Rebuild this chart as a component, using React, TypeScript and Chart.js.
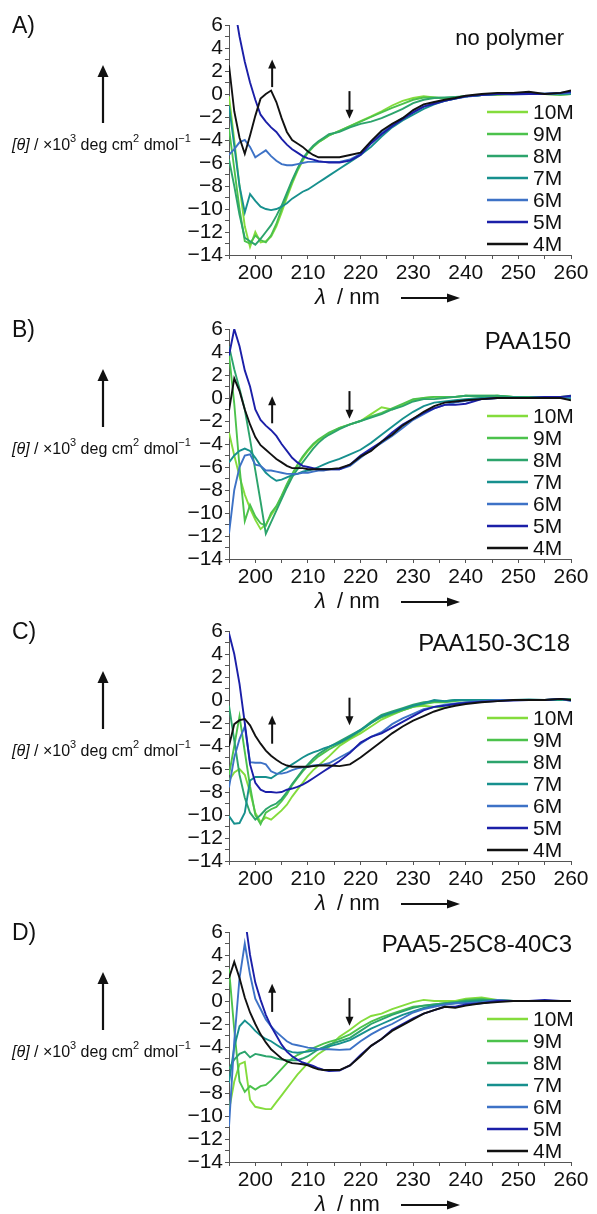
import React, { useEffect, useRef } from 'react';
import { Chart, registerables } from 'chart.js';

Chart.register(...registerables);

const FONT = '"Liberation Sans", Arial, Helvetica, sans-serif';
const AXIS_COLOR = '#555555';
const TEXT_COLOR = '#111111';

// wavelength grid (nm)
const WAVELENGTHS = [
  195, 196, 197, 198, 199, 200, 201, 202, 203, 204, 205, 206, 207, 208, 209, 210, 211, 212, 213, 214,
  216, 218, 220, 222, 224, 226, 228, 230, 232, 234, 236, 238, 240,
  243, 246, 249, 252, 255, 258, 260,
];

const SERIES_NAMES = ['10M', '9M', '8M', '7M', '6M', '5M', '4M'];
const SERIES_COLORS = ['#84dc3c', '#4cc24c', '#2ca46c', '#17908e', '#3d72c6', '#1b1fa8', '#111111'];

const X_TICK_VALUES = [195, 200, 205, 210, 215, 220, 225, 230, 235, 240, 245, 250, 255, 260];
const X_TICK_LABELS = [200, 210, 220, 230, 240, 250, 260];
const Y_TICK_VALUES = [-14, -13, -12, -11, -10, -9, -8, -7, -6, -5, -4, -3, -2, -1, 0, 1, 2, 3, 4, 5, 6];
const Y_TICK_LABELS = [-14, -12, -10, -8, -6, -4, -2, 0, 2, 4, 6];

// Panel A: no polymer
const A_10M = [-0.2, -4.0, -8.0, -11.5, -13.3, -12.0, -12.9, -12.8, -12.4, -11.5, -10.3, -9.0, -7.8, -6.7, -5.8, -5.1, -4.6, -4.2, -3.9, -3.6, -3.2, -2.8, -2.35, -1.95, -1.5, -1.0, -0.6, -0.35, -0.2, -0.3, -0.4, -0.3, -0.2, -0.1, -0.1, 0.0, 0.0, 0.0, -0.1, 0.0];
const A_9M = [-3.0, -6.5, -10.0, -12.8, -13.0, -12.3, -12.7, -12.9, -12.3, -11.3, -10.0, -8.8, -7.6, -6.6, -5.7, -5.1, -4.6, -4.2, -3.9, -3.6, -3.2, -2.8, -2.4, -2.0, -1.6, -1.2, -0.85, -0.5, -0.3, -0.3, -0.35, -0.3, -0.2, -0.1, 0.0, 0.0, 0.0, 0.0, 0.0, 0.0];
const A_8M = [-5.7, -8.0, -10.5, -12.5, -12.8, -13.1, -12.6, -12.0, -11.4, -10.6, -9.7, -8.6, -7.5, -6.5, -5.6, -5.0, -4.5, -4.1, -3.8, -3.5, -3.3, -2.9, -2.6, -2.4, -2.1, -1.7, -1.3, -0.8, -0.5, -0.35, -0.3, -0.25, -0.2, -0.1, 0.0, 0.0, 0.0, 0.0, -0.05, 0.0];
const A_7M = [-1.0, -4.5, -8.0, -10.3, -8.7, -9.3, -9.8, -10.0, -10.1, -10.0, -9.8, -9.5, -9.1, -8.8, -8.5, -8.3, -8.0, -7.7, -7.4, -7.1, -6.5, -5.9, -5.3, -4.6, -3.7, -2.9, -2.3, -1.8, -1.3, -0.9, -0.6, -0.4, -0.2, -0.1, 0.0, 0.0, 0.05, 0.0, 0.05, 0.05];
const A_6M = [-5.3, -4.8, -4.2, -4.0, -4.6, -5.5, -5.2, -4.9, -5.4, -5.8, -6.1, -6.2, -6.2, -6.1, -6.0, -5.9, -5.9, -5.9, -5.9, -5.9, -5.9, -5.7, -5.2, -4.2, -3.4, -2.7, -2.1, -1.6, -1.1, -0.8, -0.6, -0.4, -0.25, -0.1, 0.0, -0.05, 0.0, 0.05, 0.05, 0.1];
const A_5M = [10.0, 7.7, 5.0, 2.8, 1.0, -0.5, -1.8, -2.4, -2.9, -3.3, -3.9, -4.4, -4.8, -5.1, -5.4, -5.6, -5.7, -5.85, -5.9, -5.95, -5.95, -5.8, -5.3, -4.3, -3.5, -2.8, -2.2, -1.6, -1.1, -0.85, -0.6, -0.4, -0.2, -0.1, 0.0, 0.0, 0.0, 0.0, 0.1, 0.2];
const A_4M = [2.5, -1.5, -3.8, -5.2, -3.6, -1.9, -0.4, 0.0, 0.3, -0.7, -2.1, -3.3, -4.0, -4.3, -4.6, -5.0, -5.3, -5.5, -5.5, -5.5, -5.5, -5.3, -5.1, -4.1, -3.2, -2.6, -2.1, -1.4, -0.9, -0.7, -0.5, -0.35, -0.15, 0.0, 0.1, 0.1, 0.2, 0.0, 0.1, 0.3];

// Panel B: PAA150
const B_10M = [-3.0, -5.0, -6.8, -8.4, -9.6, -10.6, -11.4, -11.0, -10.2, -9.5, -8.6, -7.6, -6.7, -5.9, -5.2, -4.6, -4.1, -3.7, -3.4, -3.1, -2.6, -2.3, -2.0, -1.4, -0.8, -1.0, -0.6, -0.2, 0.0, 0.1, 0.1, 0.1, 0.2, 0.2, 0.2, 0.1, 0.1, 0.1, 0.1, 0.2];
const B_9M = [3.8, -0.5, -6.0, -10.7, -9.3, -10.3, -10.9, -11.1, -10.0, -9.4, -8.5, -7.5, -6.6, -5.8, -5.1, -4.5, -4.0, -3.6, -3.3, -3.0, -2.6, -2.3, -2.0, -1.6, -1.3, -0.9, -0.5, -0.1, 0.0, 0.1, 0.1, 0.1, 0.2, 0.1, 0.2, 0.1, 0.1, 0.1, 0.1, 0.1];
const B_8M = [4.5, 2.5, 0.8, -1.0, -3.6, -6.3, -9.0, -11.8, -10.8, -9.8, -8.8, -7.8, -6.9, -6.2, -5.6, -5.0, -4.4, -3.9, -3.5, -3.2, -2.7, -2.3, -2.0, -1.7, -1.4, -1.0, -0.7, -0.3, -0.1, -0.1, 0.0, 0.1, 0.2, 0.2, 0.2, 0.1, 0.1, 0.1, 0.1, 0.1];
const B_7M = [-5.6, -5.0, -4.6, -4.4, -4.6, -5.2, -5.9, -6.5, -6.9, -7.2, -7.1, -6.9, -6.7, -6.6, -6.4, -6.3, -6.2, -6.0, -5.8, -5.6, -5.3, -4.9, -4.5, -3.9, -3.2, -2.5, -1.8, -1.2, -0.7, -0.4, -0.3, -0.2, -0.1, 0.0, 0.0, 0.05, 0.0, 0.05, 0.05, 0.0];
const B_6M = [-11.8, -8.0, -6.0, -5.0, -4.9, -5.8, -5.9, -6.3, -6.3, -6.4, -6.5, -6.6, -6.6, -6.6, -6.5, -6.5, -6.4, -6.3, -6.3, -6.2, -6.2, -5.9, -5.2, -4.5, -3.9, -3.3, -2.6, -1.9, -1.4, -0.9, -0.6, -0.4, -0.25, -0.1, 0.0, 0.0, 0.0, 0.05, 0.1, 0.1];
const B_5M = [3.7, 6.0, 4.5, 2.4, 1.0, -1.0, -1.9, -2.4, -2.8, -3.3, -4.0, -4.6, -5.2, -5.6, -5.9, -6.0, -6.1, -6.2, -6.2, -6.2, -6.2, -5.8, -5.0, -4.4, -3.8, -3.0, -2.3, -1.8, -1.3, -0.9, -0.6, -0.6, -0.5, -0.1, 0.0, 0.0, 0.0, 0.1, 0.1, 0.2];
const B_4M = [-1.1, 1.7, 0.6, -1.0, -2.3, -3.4, -4.1, -4.5, -4.9, -5.3, -5.6, -5.9, -6.1, -6.1, -6.1, -6.2, -6.2, -6.2, -6.2, -6.2, -6.1, -5.8, -5.1, -4.6, -3.8, -3.2, -2.4, -1.8, -1.2, -0.7, -0.4, -0.3, -0.2, -0.1, 0.0, 0.0, 0.0, 0.0, 0.0, -0.2];

// Panel C: PAA150-3C18
const C_10M = [-7.0, -6.3, -6.0, -6.5, -8.0, -9.8, -10.6, -10.2, -10.4, -10.0, -9.6, -9.1, -8.4, -7.8, -7.2, -6.6, -6.1, -5.7, -5.3, -4.9, -4.0, -3.4, -2.9, -2.3, -1.7, -1.3, -0.9, -0.6, -0.5, -0.6, -0.7, -0.4, -0.2, -0.1, 0.0, 0.0, 0.0, 0.0, 0.1, 0.0];
const C_9M = [-6.5, -4.0, -1.4, -4.5, -7.5, -10.0, -10.8, -9.8, -9.5, -9.3, -8.8, -8.2, -7.4, -6.8, -6.2, -5.7, -5.3, -4.9, -4.6, -4.3, -3.8, -3.3, -2.7, -2.0, -1.5, -1.2, -0.9, -0.6, -0.35, -0.2, -0.2, -0.1, 0.0, 0.0, 0.0, 0.0, 0.0, 0.0, 0.0, 0.1];
const C_8M = [-0.5, -3.5, -6.5, -8.5, -9.8, -10.4, -10.0, -9.5, -9.2, -9.0, -8.6, -8.0, -7.3, -6.7, -6.1, -5.6, -5.1, -4.7, -4.4, -4.1, -3.6, -3.1, -2.6, -1.9, -1.3, -1.0, -0.7, -0.4, -0.2, -0.1, -0.1, 0.0, 0.0, 0.0, 0.0, 0.0, 0.0, 0.0, 0.0, 0.0];
const C_7M = [-10.1, -10.75, -10.7, -9.8, -7.0, -6.7, -6.7, -6.7, -6.8, -6.5, -6.2, -5.9, -5.6, -5.3, -5.0, -4.75, -4.55, -4.4, -4.2, -4.05, -3.7, -3.2, -2.6, -2.0, -1.4, -1.1, -0.8, -0.5, -0.3, 0.0, -0.1, 0.0, 0.0, 0.0, 0.0, 0.0, 0.05, 0.0, 0.05, 0.0];
const C_6M = [-7.6, -5.0, -3.4, -2.3, -5.4, -5.45, -5.45, -5.6, -6.2, -6.4, -6.4, -6.3, -6.1, -5.95, -5.85, -5.8, -5.7, -5.65, -5.6, -5.5, -5.0, -4.5, -3.8, -3.2, -2.8, -2.1, -1.6, -1.2, -0.8, -0.6, -0.4, -0.3, -0.2, -0.1, 0.0, 0.0, 0.0, 0.0, 0.1, -0.1];
const C_5M = [5.8, 4.0, 1.4, -2.0, -5.6, -7.2, -7.8, -8.0, -8.0, -8.05, -8.0, -7.8, -7.7, -7.55, -7.35, -7.1, -6.8, -6.5, -6.2, -5.9, -5.3, -4.6, -3.7, -3.2, -2.9, -2.4, -1.9, -1.4, -0.9, -0.6, -0.5, -0.35, -0.25, -0.15, -0.1, -0.05, 0.0, 0.0, 0.1, 0.0];
const C_4M = [-4.0, -2.1, -1.75, -1.65, -2.2, -3.1, -3.8, -4.4, -4.85, -5.2, -5.5, -5.7, -5.8, -5.8, -5.8, -5.8, -5.75, -5.7, -5.7, -5.7, -5.75, -5.6, -5.0, -4.3, -3.6, -2.9, -2.3, -1.8, -1.4, -1.0, -0.7, -0.5, -0.35, -0.2, -0.1, 0.0, 0.0, 0.0, 0.1, 0.0];

// Panel D: PAA5-25C8-40C3
const D_10M = [-9.5, -7.0, -5.5, -5.3, -8.6, -9.2, -9.3, -9.4, -9.4, -8.8, -8.2, -7.6, -7.0, -6.4, -5.9, -5.4, -5.0, -4.6, -4.3, -4.0, -3.1, -2.5, -1.8, -1.3, -1.1, -0.7, -0.4, -0.1, 0.1, 0.0, 0.0, 0.0, 0.2, 0.3, 0.1, 0.0, 0.0, 0.0, 0.0, 0.0];
const D_9M = [2.8, -2.5, -7.0, -7.9, -7.4, -7.7, -7.4, -7.3, -6.9, -6.4, -5.9, -5.4, -5.0, -4.7, -4.5, -4.3, -4.1, -3.9, -3.7, -3.55, -3.3, -2.9, -2.3, -1.8, -1.4, -1.1, -0.8, -0.5, -0.4, -0.3, -0.2, -0.1, 0.1, 0.2, 0.0, 0.0, 0.0, 0.0, 0.0, 0.0];
const D_8M = [-5.9, -5.1, -4.6, -4.4, -4.9, -4.6, -4.7, -4.8, -4.85, -5.0, -5.1, -5.15, -5.15, -5.15, -5.0, -4.8, -4.5, -4.2, -4.0, -3.8, -3.5, -3.2, -2.6, -2.0, -1.6, -1.2, -0.9, -0.6, -0.4, -0.3, -0.2, -0.1, 0.0, 0.1, 0.1, 0.0, 0.0, 0.0, 0.0, 0.0];
const D_7M = [-7.1, -4.0, -2.2, -1.7, -2.1, -2.6, -3.0, -3.3, -3.5, -3.8, -4.1, -4.3, -4.45, -4.5, -4.45, -4.4, -4.3, -4.2, -4.1, -3.95, -3.7, -3.4, -2.9, -2.4, -2.0, -1.6, -1.2, -0.9, -0.6, -0.4, -0.3, -0.2, -0.1, 0.0, 0.0, 0.0, 0.0, 0.0, 0.0, 0.0];
const D_6M = [-10.9, -3.5, 2.0, 5.0, 2.3, 0.2, -0.7, -1.6, -2.2, -2.7, -3.1, -3.5, -3.75, -3.85, -3.95, -4.05, -4.1, -4.2, -4.2, -4.2, -4.25, -4.2, -3.5, -2.9, -2.4, -2.0, -1.5, -1.0, -0.7, -0.5, -0.3, -0.2, -0.2, -0.1, 0.1, 0.0, 0.0, 0.0, 0.0, 0.0];
const D_5M = [15.0, 13.0, 10.0, 7.3, 4.0, 1.6, 0.1, -1.2, -2.2, -3.0, -3.8, -4.4, -4.8, -5.1, -5.35, -5.5, -5.65, -5.85, -6.0, -6.1, -6.05, -5.6, -4.7, -3.9, -3.3, -2.5, -2.0, -1.5, -1.1, -0.8, -0.5, -0.5, -0.3, -0.2, 0.0, 0.0, 0.0, 0.1, 0.0, 0.0];
const D_4M = [2.0, 3.4, 2.0, 0.3, -1.0, -2.0, -2.9, -3.6, -4.2, -4.6, -5.0, -5.25, -5.4, -5.45, -5.5, -5.6, -5.8, -5.95, -6.0, -6.0, -6.0, -5.6, -4.8, -3.9, -3.3, -2.6, -2.1, -1.6, -1.1, -0.8, -0.5, -0.6, -0.4, -0.2, -0.1, 0.0, 0.0, 0.0, 0.0, 0.0];

// trend arrows inside the plots (data coordinates: wavelength, tail value, tip value)
const A_ARROWS = [{ x: 203.2, from: 0.6, to: 3.0 }, { x: 217.9, from: 0.25, to: -2.15 }];
const B_ARROWS = [{ x: 203.2, from: -2.2, to: 0.15 }, { x: 217.9, from: 0.6, to: -1.8 }];
const C_ARROWS = [{ x: 203.2, from: -3.8, to: -1.35 }, { x: 217.9, from: 0.2, to: -2.2 }];
const D_ARROWS = [{ x: 203.2, from: -0.95, to: 1.5 }, { x: 217.9, from: 0.25, to: -2.15 }];

const PANELS = [
  { letter: 'A)', title: 'no polymer', titleRight: 564, titleSize: 22, series: [A_10M, A_9M, A_8M, A_7M, A_6M, A_5M, A_4M], arrows: A_ARROWS },
  { letter: 'B)', title: 'PAA150', titleRight: 571, titleSize: 24, series: [B_10M, B_9M, B_8M, B_7M, B_6M, B_5M, B_4M], arrows: B_ARROWS },
  { letter: 'C)', title: 'PAA150-3C18', titleRight: 570, titleSize: 24, series: [C_10M, C_9M, C_8M, C_7M, C_6M, C_5M, C_4M], arrows: C_ARROWS },
  { letter: 'D)', title: 'PAA5-25C8-40C3', titleRight: 572, titleSize: 24, series: [D_10M, D_9M, D_8M, D_7M, D_6M, D_5M, D_4M], arrows: D_ARROWS },
];
const PANEL_TOPS = [0, 304, 606, 907];
const CANVAS_W = 597;
const CANVAS_H = 310;

function fmtNum(v: number): string {
  return v < 0 ? '\u2212' + Math.abs(v) : String(v);
}

function drawArrow(ctx: CanvasRenderingContext2D, x0: number, y0: number, x1: number, y1: number, lw: number, hl: number, hw: number) {
  const dx = x1 - x0, dy = y1 - y0;
  const len = Math.hypot(dx, dy);
  const ux = dx / len, uy = dy / len;
  const bx = x1 - ux * hl, by = y1 - uy * hl;
  ctx.beginPath();
  ctx.lineWidth = lw;
  ctx.moveTo(x0, y0);
  ctx.lineTo(bx + ux * 1, by + uy * 1);
  ctx.stroke();
  ctx.beginPath();
  ctx.moveTo(x1, y1);
  ctx.lineTo(bx - uy * hw, by + ux * hw);
  ctx.lineTo(bx + uy * hw, by - ux * hw);
  ctx.closePath();
  ctx.fill();
}

function makeDecor(panel: any) {
  return {
    id: 'decor',
    afterDraw(chart: any) {
      const { ctx, scales } = chart;
      const xs = scales.x, ys = scales.y;
      ctx.save();
      ctx.fillStyle = TEXT_COLOR;
      ctx.strokeStyle = TEXT_COLOR;

      // panel letter
      ctx.font = `23px ${FONT}`;
      ctx.textAlign = 'left';
      ctx.textBaseline = 'alphabetic';
      ctx.fillText(panel.letter, 12, 33);

      // panel title
      ctx.font = `${panel.titleSize}px ${FONT}`;
      ctx.textAlign = 'right';
      ctx.fillText(panel.title, panel.titleRight, 45);

      // legend
      ctx.textAlign = 'left';
      ctx.textBaseline = 'middle';
      SERIES_NAMES.forEach((name, i) => {
        const yy = 112 + i * 22;
        ctx.beginPath();
        ctx.strokeStyle = SERIES_COLORS[i];
        ctx.lineWidth = 2.5;
        ctx.moveTo(487, yy);
        ctx.lineTo(528, yy);
        ctx.stroke();
        ctx.fillStyle = TEXT_COLOR;
        ctx.font = `21px ${FONT}`;
        ctx.fillText(name, 533, yy + 1);
      });

      // trend arrows in data coordinates
      ctx.strokeStyle = TEXT_COLOR;
      ctx.fillStyle = TEXT_COLOR;
      panel.arrows.forEach((a: any) => {
        const px = xs.getPixelForValue(a.x);
        drawArrow(ctx, px, ys.getPixelForValue(a.from), px, ys.getPixelForValue(a.to), 2, 9, 4);
      });

      // y-axis title with superscripts
      ctx.textAlign = 'left';
      ctx.textBaseline = 'alphabetic';
      const base = 150;
      let cx = 12;
      const parts: [string, string, number][] = [
        ['[θ]', `italic 16px ${FONT}`, 0],
        [' / ×10', `16px ${FONT}`, 0],
        ['3', `11px ${FONT}`, -8],
        [' deg cm', `16px ${FONT}`, 0],
        ['2', `11px ${FONT}`, -8],
        [' dmol', `16px ${FONT}`, 0],
        ['\u22121', `11px ${FONT}`, -8],
      ];
      parts.forEach(([t, f, dy]) => {
        ctx.font = f;
        ctx.fillText(t, cx, base + dy);
        cx += ctx.measureText(t).width;
      });
      drawArrow(ctx, 103, 123, 103, 65, 2.2, 12, 5.5);

      // x-axis title
      ctx.font = `italic 22px ${FONT}`;
      ctx.fillText('λ', 315, 304);
      ctx.font = `22px ${FONT}`;
      ctx.fillText('/ nm', 337, 304);
      drawArrow(ctx, 401, 298, 460, 298, 2, 13, 4.5);

      ctx.restore();
    },
  };
}

function buildConfig(panel: any): any {
  return {
    type: 'line',
    data: {
      datasets: SERIES_NAMES.map((name, i) => ({
        label: name,
        data: WAVELENGTHS.map((w, j) => ({ x: w, y: panel.series[i][j] })),
        borderColor: SERIES_COLORS[i],
        backgroundColor: SERIES_COLORS[i],
        borderWidth: 1.9,
        pointRadius: 0,
        tension: 0,
        fill: false,
        order: SERIES_NAMES.length - 1 - i,
      })),
    },
    options: {
      responsive: false,
      maintainAspectRatio: false,
      animation: false,
      devicePixelRatio: 1,
      layout: { padding: { left: 0, right: 26, top: 25, bottom: 0 } },
      plugins: { legend: { display: false }, tooltip: { enabled: false }, title: { display: false } },
      scales: {
        x: {
          type: 'linear',
          min: 195,
          max: 260,
          afterBuildTicks: (s: any) => { s.ticks = X_TICK_VALUES.map((v) => ({ value: v })); },
          afterFit: (s: any) => { s.height = 55; },
          grid: { display: true, drawOnChartArea: false, drawTicks: true, tickLength: 4, color: AXIS_COLOR },
          border: { display: true, color: AXIS_COLOR, width: 1 },
          ticks: {
            autoSkip: false,
            maxRotation: 0,
            padding: 2,
            color: TEXT_COLOR,
            font: { family: FONT, size: 21 },
            callback: (v: number) => (X_TICK_LABELS.includes(v) ? String(v) : ''),
          },
        },
        y: {
          type: 'linear',
          min: -14,
          max: 6,
          afterBuildTicks: (s: any) => { s.ticks = Y_TICK_VALUES.map((v) => ({ value: v })); },
          afterFit: (s: any) => { s.width = 229; },
          grid: { display: true, drawOnChartArea: false, drawTicks: true, tickLength: 4, color: AXIS_COLOR },
          border: { display: true, color: AXIS_COLOR, width: 1 },
          ticks: {
            autoSkip: false,
            padding: 2,
            color: TEXT_COLOR,
            font: { family: FONT, size: 21 },
            callback: (v: number) => (Y_TICK_LABELS.includes(v) ? fmtNum(v) : ''),
          },
        },
      },
    },
    plugins: [makeDecor(panel)],
  };
}

function Panel({ panel, top }: { panel: any; top: number }) {
  const ref = useRef<HTMLCanvasElement>(null);
  useEffect(() => {
    const chart = new Chart(ref.current as HTMLCanvasElement, buildConfig(panel));
    return () => chart.destroy();
  }, [panel]);
  return (
    <div style={{ position: 'absolute', left: 0, top, width: CANVAS_W, height: CANVAS_H }}>
      <canvas ref={ref} width={CANVAS_W} height={CANVAS_H} style={{ width: CANVAS_W, height: CANVAS_H, display: 'block' }} />
    </div>
  );
}

export default function App() {
  useEffect(() => {
    document.body.style.margin = '0';
  }, []);
  return (
    <div style={{ position: 'relative', width: 597, height: 1214, background: '#ffffff', overflow: 'hidden' }}>
      {PANELS.map((p, i) => (
        <Panel key={i} panel={p} top={PANEL_TOPS[i]} />
      ))}
    </div>
  );
}
